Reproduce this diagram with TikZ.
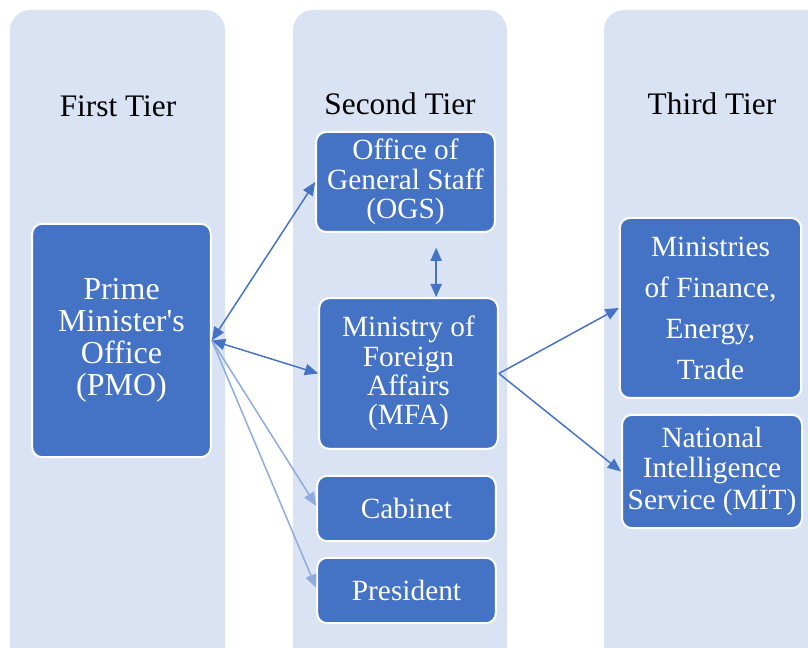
\documentclass[tikz,border=0pt]{standalone}
\usepackage{fontspec}
\setmainfont{Liberation Serif}
\usepackage{tikz}
\usetikzlibrary{positioning, arrows.meta}
\definecolor{ctier}{HTML}{DAE3F3}
\definecolor{cbox}{HTML}{4472C4}
\definecolor{clink}{HTML}{4472C4}
\definecolor{cfaint}{HTML}{8FAADC}
\tikzset{
  tier/.style={fill=ctier, rounded corners=15pt},
  ttl/.style={font=\fontsize{23.5}{26}\selectfont, text=black},
  org/.style={draw=white, line width=1.5pt, fill=cbox, rounded corners=7.5pt,
              align=center, text=white, inner sep=2pt,
              font=\fontsize{22}{22}\selectfont, minimum width=134pt},
  ln/.style={draw=clink, line width=1.1pt, {Triangle[length=10pt, width=8.5pt]}-{Triangle[length=10pt, width=8.5pt]}},
  fwd/.style={draw=clink, line width=1.1pt, -{Triangle[length=10pt, width=8.5pt]}},
  fnt/.style={draw=cfaint, line width=1.1pt, -{Triangle[length=10pt, width=8.5pt]}},
}

\begin{document}
\begin{tikzpicture}[x=0.75pt, y=-0.75pt]
  \clip (0,0) rectangle (808,648);
  % three tier columns
  \fill[tier] (10,10) rectangle (225,680);
  \fill[tier] (293,10) rectangle (507,680);
  \fill[tier] (604,10) rectangle (830,680);
  \node[ttl] (t1) at (118,106) {First Tier};
  \node[ttl] (t2) at (400,104) {Second Tier};
  \node[ttl] (t3) at (712,104) {Third Tier};

  \node[org, minimum height=175pt, font=\fontsize{24}{24}\selectfont] (pmo) at (121.5,340.5)
    {Prime\\Minister\textquotesingle s\\Office\\(PMO)};
  \node[org, minimum height=75pt] (ogs) at (405.5,182) {Office of\\General Staff\\(OGS)};
  \node[org, minimum height=113pt] (mfa) at (408.5,373.5) {Ministry of\\Foreign\\Affairs\\(MFA)};
  \node[org, minimum height=49pt] (cab) at (406.5,508.5) {Cabinet};
  \node[org, minimum height=49pt, below=11pt of cab] (pres) {President};
  \node[org, minimum width=136pt, minimum height=135pt, font=\fontsize{22}{30.75}\selectfont] (min) at (710.5,308)
    {Ministries\\of Finance,\\Energy,\\Trade};
  \node[org, minimum width=135pt, minimum height=85pt] (mit) at (712,471.5)
    {National\\Intelligence\\Service (M\.{I}T)};

  \draw[ln] (pmo.east) -- (ogs.west);
  \draw[ln] (pmo.east) -- (mfa.west);
  \draw[fnt] (pmo.east) -- ([yshift=2pt]cab.west);
  \draw[fnt] (pmo.east) -- ([yshift=2pt]pres.west);
  \draw[ln, shorten <=11pt] ([xshift=23pt]ogs.south) -- ([xshift=23pt]ogs.south |- mfa.north);
  \draw[fwd] (mfa.east) -- (min.west);
  \draw[fwd] (mfa.east) -- (mit.west);
\end{tikzpicture}
\end{document}
